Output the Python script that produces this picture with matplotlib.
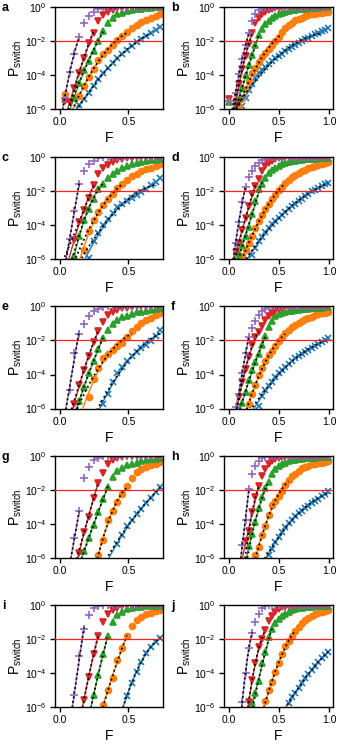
import numpy as np
import matplotlib
matplotlib.use("Agg")
import matplotlib.pyplot as plt

plt.rcParams['font.family'] = ['Liberation Sans', 'DejaVu Sans']
plt.rcParams['mathtext.fontset'] = 'custom'
plt.rcParams['mathtext.rm'] = 'Liberation Sans'
plt.rcParams['mathtext.it'] = 'Liberation Sans:italic'
plt.rcParams['mathtext.bf'] = 'Liberation Sans:bold'

N = np.nan

# Force grids (x values)
F_LEFT = [0.0, 0.035, 0.07, 0.105, 0.14, 0.175, 0.21, 0.245, 0.28, 0.315, 0.35,
          0.385, 0.42, 0.455, 0.49, 0.525, 0.56, 0.595, 0.63, 0.665, 0.70, 0.735]
F_RIGHT = [0.0, 0.033, 0.066, 0.099, 0.132, 0.165, 0.198, 0.231, 0.264, 0.297, 0.33,
           0.363, 0.396, 0.429, 0.462, 0.495, 0.528, 0.561, 0.594, 0.627, 0.66,
           0.693, 0.726, 0.759, 0.792, 0.825, 0.858, 0.891, 0.924, 0.957, 0.99]

# log10(P_switch) per panel, series order: blue(x), orange(o), green(^), red(v), purple(+)
LOG_A = [
    [N, N, N, N, -5.79, -5.42, -5.06, -4.66, -4.24, -3.88, -3.58, -3.29, -3.0, -2.77, -2.53, -2.3, -2.07, -1.88, -1.7, -1.53, -1.36, -1.18],
    [N, -5.1, N, N, -5.25, -4.64, -4.14, -3.64, -3.14, -2.79, -2.5, -2.21, -1.94, -1.71, -1.48, -1.26, -1.03, -0.9, -0.78, -0.66, -0.54, -0.42],
    [N, -5.4, N, -5.33, -4.45, -3.72, -3.15, -2.57, -2.0, -1.44, -0.96, -0.66, -0.43, -0.35, -0.26, -0.18, -0.14, -0.11, -0.08, -0.05, -0.02, -0.01],
    [N, -5.5, -5.56, -4.77, -3.88, -2.99, -2.1, -1.5, -0.83, -0.46, -0.27, -0.16, -0.08, -0.04, -0.01, 0, 0, 0, 0, 0, 0, 0],
    [N, -5.33, -3.8, -2.77, -1.75, -0.97, -0.53, -0.28, -0.12, -0.03, -0.01, 0, 0, 0, 0, 0, 0, 0, 0, 0, 0, 0],
]
LOG_B = [
    [N, N, N, N, -5.83, -5.36, -4.91, -4.54, -4.18, -3.91, -3.72, -3.54, -3.36, -3.17, -2.99, -2.87, -2.74, -2.61, -2.48, -2.36, -2.23, -2.1, -1.98, -1.89, -1.8, -1.7, -1.61, -1.52, -1.43, -1.33, -1.24],
    [N, N, N, -5.86, -5.35, -4.85, -4.36, -3.91, -3.57, -3.23, -2.93, -2.7, -2.47, -2.24, -2.01, -1.75, -1.48, -1.21, -1.05, -0.92, -0.79, -0.7, -0.62, -0.54, -0.47, -0.43, -0.4, -0.37, -0.34, -0.31, -0.28],
    [-5.6, N, N, -5.44, -4.74, -4.02, -3.43, -2.84, -2.25, -1.67, -1.31, -1.0, -0.81, -0.65, -0.52, -0.44, -0.36, -0.28, -0.24, -0.2, -0.17, -0.14, -0.1, -0.09, -0.08, -0.06, -0.05, -0.03, -0.02, -0.02, 0],
    [-5.4, N, -5.66, -4.54, -3.62, -2.89, -2.16, -1.54, -0.96, -0.65, -0.4, -0.28, -0.16, -0.11, -0.06, -0.04, -0.01, 0, 0, 0, 0, 0, 0, 0, 0, 0, 0, 0, 0, 0, 0],
    [-5.5, N, -5.06, -3.96, -3.08, -2.25, -1.54, -0.82, -0.4, -0.17, -0.05, -0.02, 0, 0, 0, 0, 0, 0, 0, 0, 0, 0, 0, 0, 0, 0, 0, 0, 0, 0, 0],
]
LOG_C = [
    [N, N, N, N, N, N, -5.92, -4.97, -4.49, -4.01, -3.64, -3.27, -2.95, -2.78, -2.6, -2.43, -2.25, -2.08, -1.88, -1.67, -1.46, -1.25],
    [N, N, N, N, N, -5.5, -4.33, -3.69, -3.25, -2.85, -2.5, -2.15, -1.85, -1.59, -1.33, -1.12, -0.98, -0.85, -0.73, -0.62, -0.52, -0.41],
    [N, N, N, -5.83, -4.62, -3.7, -3.07, -2.45, -1.9, -1.56, -1.23, -0.98, -0.8, -0.65, -0.54, -0.43, -0.36, -0.3, -0.25, -0.19, -0.15, -0.11],
    [N, N, N, -4.88, -3.83, -3.11, -2.41, -1.66, -0.98, -0.65, -0.45, -0.29, -0.19, -0.1, -0.06, -0.03, 0, 0, 0, 0, 0, 0],
    [N, N, -4.83, -3.18, -1.57, -0.82, -0.44, -0.24, -0.08, -0.01, 0, 0, 0, 0, 0, 0, 0, 0, 0, 0, 0, 0],
]
LOG_D = [
    [N, N, N, N, N, N, N, -5.74, -5.37, -4.95, -4.69, -4.44, -4.18, -3.95, -3.77, -3.58, -3.4, -3.22, -3.03, -2.88, -2.74, -2.6, -2.45, -2.31, -2.17, -2.02, -1.92, -1.82, -1.72, -1.61, -1.51],
    [N, N, N, N, -5.82, -5.45, -5.08, -4.64, -4.19, -3.79, -3.43, -3.08, -2.79, -2.5, -2.21, -1.95, -1.75, -1.53, -1.36, -1.2, -1.03, -0.92, -0.84, -0.74, -0.65, -0.59, -0.54, -0.48, -0.43, -0.37, -0.32],
    [N, N, N, -5.7, -5.17, -4.64, -4.11, -3.37, -2.58, -1.91, -1.58, -1.25, -0.95, -0.79, -0.64, -0.53, -0.43, -0.33, -0.28, -0.25, -0.21, -0.18, -0.15, -0.13, -0.12, -0.1, -0.09, -0.08, -0.07, -0.06, -0.04],
    [N, N, -5.56, -5.06, -4.31, -3.6, -2.89, -2.19, -1.7, -1.28, -0.83, -0.54, -0.33, -0.21, -0.12, -0.07, -0.03, 0, 0, 0, 0, 0, 0, 0, 0, 0, 0, 0, 0, 0, 0],
    [N, N, -5.03, -3.83, -2.65, -1.75, -1.2, -0.83, -0.51, -0.33, -0.15, -0.08, -0.01, 0, 0, 0, 0, 0, 0, 0, 0, 0, 0, 0, 0, 0, 0, 0, 0, 0, 0],
]
LOG_E = [
    [N, N, N, N, N, N, N, N, N, -5.75, -5.13, -4.46, -3.94, -3.57, -3.21, -2.91, -2.69, -2.47, -2.25, -2.03, -1.72, -1.4],
    [N, N, N, N, N, N, -5.32, -4.29, -3.59, -3.02, -2.78, -2.56, -2.34, -2.12, -1.8, -1.45, -1.18, -0.98, -0.79, -0.65, -0.51, -0.41],
    [N, N, N, N, -5.54, -4.74, -3.94, -3.22, -2.5, -1.84, -1.37, -1.03, -0.81, -0.64, -0.55, -0.42, -0.35, -0.3, -0.25, -0.19, -0.15, -0.11],
    [N, N, N, -5.71, -4.59, -3.76, -2.94, -2.1, -1.43, -0.91, -0.52, -0.33, -0.21, -0.11, -0.07, -0.03, 0, 0, 0, 0, 0, 0],
    [N, N, -4.9, -2.75, -1.6, -1.04, -0.58, -0.28, -0.12, -0.04, 0, 0, 0, 0, 0, 0, 0, 0, 0, 0, 0, 0],
]
LOG_F = [
    [N, N, N, N, N, N, N, N, N, -5.83, -5.25, -4.91, -4.67, -4.42, -4.15, -3.92, -3.75, -3.57, -3.4, -3.23, -3.05, -2.92, -2.8, -2.68, -2.56, -2.45, -2.33, -2.21, -2.09, -1.98, -1.85],
    [N, N, N, N, N, N, -5.73, -5.13, -4.6, -4.05, -3.62, -3.21, -2.87, -2.59, -2.32, -2.04, -1.8, -1.56, -1.37, -1.23, -1.09, -0.96, -0.83, -0.74, -0.66, -0.59, -0.52, -0.46, -0.41, -0.37, -0.32],
    [N, N, N, N, -5.68, -5.01, -4.34, -3.76, -3.26, -2.77, -2.27, -1.72, -1.22, -0.85, -0.57, -0.44, -0.38, -0.32, -0.28, -0.25, -0.21, -0.18, -0.15, -0.13, -0.12, -0.1, -0.09, -0.08, -0.06, -0.05, -0.04],
    [N, N, N, -5.32, -4.47, -3.68, -2.99, -2.29, -1.82, -1.49, -1.13, -0.8, -0.54, -0.36, -0.24, -0.16, -0.09, -0.05, -0.01, 0, 0, 0, 0, 0, 0, 0, 0, 0, 0, 0, 0],
    [N, N, -5.9, -5.16, -3.93, -2.73, -1.79, -1.25, -0.84, -0.5, -0.27, -0.13, -0.01, 0, 0, 0, 0, 0, 0, 0, 0, 0, 0, 0, 0, 0, 0, 0, 0, 0, 0],
]
LOG_G = [
    [N, N, N, N, N, N, N, N, N, N, N, N, -5.2, -4.68, -4.15, -3.77, -3.45, -3.14, -2.81, -2.48, -2.14, -1.85],
    [N, N, N, N, N, N, N, N, -5.82, -4.96, -3.78, -3.23, -2.73, -2.26, -1.79, -1.32, -0.94, -0.8, -0.66, -0.56, -0.46, -0.37],
    [N, N, N, N, N, -5.62, -4.84, -4.07, -3.3, -2.54, -1.82, -1.25, -0.91, -0.72, -0.54, -0.47, -0.4, -0.33, -0.28, -0.22, -0.17, -0.11],
    [N, N, N, N, -5.72, -4.5, -3.6, -2.48, -1.61, -0.99, -0.48, -0.23, -0.12, -0.05, -0.01, 0, 0, 0, 0, 0, 0, 0],
    [N, N, N, -4.87, -3.28, -1.34, -0.64, -0.28, -0.13, -0.04, 0, 0, 0, 0, 0, 0, 0, 0, 0, 0, 0, 0],
]
LOG_H = [
    [N, N, N, N, N, N, N, N, N, N, N, N, -5.85, -5.48, -5.1, -4.77, -4.47, -4.21, -3.98, -3.77, -3.56, -3.39, -3.24, -3.09, -2.94, -2.8, -2.66, -2.52, -2.38, -2.24, -2.1],
    [N, N, N, N, N, N, N, N, -5.87, -5.37, -4.67, -4.12, -3.48, -2.92, -2.64, -2.35, -2.07, -1.74, -1.4, -1.21, -1.05, -0.89, -0.73, -0.64, -0.58, -0.51, -0.47, -0.43, -0.4, -0.36, -0.33],
    [N, N, N, N, N, N, -5.3, -4.58, -3.9, -3.08, -2.44, -1.9, -1.55, -1.06, -0.8, -0.58, -0.48, -0.4, -0.31, -0.27, -0.24, -0.2, -0.17, -0.15, -0.14, -0.12, -0.11, -0.09, -0.08, -0.07, -0.05],
    [N, N, N, N, N, -5.04, -4.44, -3.3, -2.45, -1.8, -1.17, -0.79, -0.49, -0.33, -0.19, -0.13, -0.09, -0.05, -0.03, -0.01, 0, 0, 0, 0, 0, 0, 0, 0, 0, 0, 0],
    [N, N, N, N, -5.24, -3.8, -1.94, -1.09, -0.6, -0.32, -0.15, -0.06, 0, 0, 0, 0, 0, 0, 0, 0, 0, 0, 0, 0, 0, 0, 0, 0, 0, 0, 0],
]
LOG_I = [
    [N, N, N, N, N, N, N, N, N, N, N, N, N, N, -5.33, -4.57, -3.95, -3.34, -2.84, -2.46, -2.15, -1.92],
    [N, N, N, N, N, N, N, N, N, -5.87, -5.0, -4.27, -3.23, -2.5, -1.81, -1.22, -0.9, -0.69, -0.54, -0.46, -0.38, -0.31],
    [N, N, N, N, N, N, N, -5.32, -4.1, -2.9, -1.8, -0.99, -0.6, -0.4, -0.25, -0.19, -0.13, -0.09, -0.07, -0.06, -0.05, -0.03],
    [N, N, N, N, N, -5.56, -4.26, -2.9, -1.82, -1.0, -0.52, -0.28, -0.17, -0.08, -0.02, 0, 0, 0, 0, 0, 0, 0],
    [N, N, N, -5.3, -2.98, -1.44, -0.58, -0.19, -0.07, -0.02, 0, 0, 0, 0, 0, 0, 0, 0, 0, 0, 0, 0],
]
LOG_J = [
    [N, N, N, N, N, N, N, N, N, N, N, N, N, N, N, N, N, N, -5.79, -5.41, -5.2, -4.88, -4.58, -4.32, -4.06, -3.82, -3.59, -3.36, -3.13, -2.93, -2.75],
    [N, N, N, N, N, N, N, N, N, N, N, -5.65, -4.99, -4.54, -3.97, -3.39, -2.88, -2.44, -2.11, -1.83, -1.5, -1.3, -1.07, -0.9, -0.74, -0.63, -0.53, -0.46, -0.4, -0.35, -0.3],
    [N, N, N, N, N, N, N, -5.79, -5.17, -4.45, -3.44, -2.79, -1.9, -1.41, -1.06, -0.84, -0.64, -0.5, -0.39, -0.29, -0.24, -0.2, -0.15, -0.12, -0.11, -0.1, -0.08, -0.07, -0.06, -0.05, -0.04],
    [N, N, N, N, N, N, -5.69, -4.4, -3.42, -2.49, -2.0, -1.46, -0.96, -0.64, -0.4, -0.26, -0.14, -0.1, -0.06, -0.04, -0.03, 0, 0, 0, 0, 0, 0, 0, 0, 0, 0],
    [N, N, N, N, -5.7, -4.0, -2.53, -1.62, -1.01, -0.5, -0.19, -0.04, 0, 0, 0, 0, 0, 0, 0, 0, 0, 0, 0, 0, 0, 0, 0, 0, 0, 0, 0],
]

PANEL_LABELS = ['a', 'b', 'c', 'd', 'e', 'f', 'g', 'h', 'i', 'j']
PANEL_DATA = [LOG_A, LOG_B, LOG_C, LOG_D, LOG_E, LOG_F, LOG_G, LOG_H, LOG_I, LOG_J]
THRESHOLD = 1e-2

COLORS = ['#1f77b4', '#ff7f0e', '#2ca02c', '#d62728', '#9467bd']
MARKERS = ['x', 'o', '^', 'v', '+']
MSIZES = [4.5, 4.3, 4.8, 4.8, 5.3]

W, H = 340, 750
fig = plt.figure(figsize=(W / 100, H / 100), dpi=100)

row_tops = [7, 157, 306.5, 455.7, 605]
ax_h = 102
col_left = [55, 224]
col_w = [108, 109]
xlims = [(-0.037, 0.754), (-0.05, 1.037)]


def fit_segment(F, L):
    F = np.asarray(F, float)
    L = np.asarray(L, float)
    idx = [i for i in range(len(L)) if np.isfinite(L[i]) and L[i] <= -1.4]
    if not idx:
        return None
    end = idx[-1]
    start = end
    while start - 1 >= 0 and np.isfinite(L[start - 1]) and L[start - 1] < L[start] and L[start - 1] > -6:
        start -= 1
    if end - start < 1:
        return None
    return F[start:end + 1], L[start:end + 1]


def curve(Fs, Ls, ext=0.12):
    deg = 2 if len(Fs) >= 4 else 1
    p = np.polyfit(Fs, Ls, deg)
    xs = np.linspace(Fs[0] - ext, Fs[-1], 200)
    ys = np.polyval(p, xs)
    dp = np.polyval(np.polyder(p), xs)
    ok = (dp > 0) & (ys > -6.6)
    return xs[ok], ys[ok]


for k, (lab, data) in enumerate(zip(PANEL_LABELS, PANEL_DATA)):
    r, c = divmod(k, 2)
    top = row_tops[r]
    ax = fig.add_axes([col_left[c] / W, 1 - (top + ax_h) / H, col_w[c] / W, ax_h / H])
    F = F_LEFT if c == 0 else F_RIGHT
    for s in range(5):
        L = np.array(data[s], float)
        ax.plot(F, 10 ** L, linestyle='none', marker=MARKERS[s], color=COLORS[s],
                ms=MSIZES[s], mew=1.2, zorder=2)
    for s in range(5):
        seg = fit_segment(F, data[s])
        if seg is None:
            continue
        Fs, Ls = seg
        xs, ys = curve(Fs, Ls)
        ax.plot(xs, 10 ** ys, color=COLORS[s], lw=1.0, zorder=3)
        if len(Fs) > 4:
            xs2, ys2 = curve(Fs[1:], Ls[1:])
        else:
            xs2, ys2 = curve(Fs, Ls, ext=0.13)
        ax.plot(xs2, 10 ** ys2, color='black', lw=1.3, ls=(0, (1, 1.6)), zorder=4)
    ax.axhline(THRESHOLD, color='#ff2020', lw=0.9, zorder=5)
    ax.set_yscale('log')
    ax.set_ylim(1e-6, 1)
    ax.set_yticks([1e-6, 1e-4, 1e-2, 1])
    ax.yaxis.set_minor_locator(matplotlib.ticker.NullLocator())
    ax.set_xlim(*xlims[c])
    ax.set_xticks([0.0, 0.5] if c == 0 else [0.0, 0.5, 1.0])
    ax.xaxis.set_major_formatter(matplotlib.ticker.FormatStrFormatter('%.1f'))
    ax.tick_params(labelsize=7.5, length=3.5, width=1.0, pad=2.5)
    for sp in ax.spines.values():
        sp.set_linewidth(1.0)
    ax.set_xlabel('F', fontsize=10, labelpad=3)
    ax.set_ylabel(r'$\mathrm{P_{switch}}$', fontsize=10, labelpad=1)
    fig.text((2 if c == 0 else 171) / W, 1 - (top + 1) / H, lab, fontsize=9,
             fontweight='bold', ha='left', va='center')

fig.savefig('out.png', dpi=100)
